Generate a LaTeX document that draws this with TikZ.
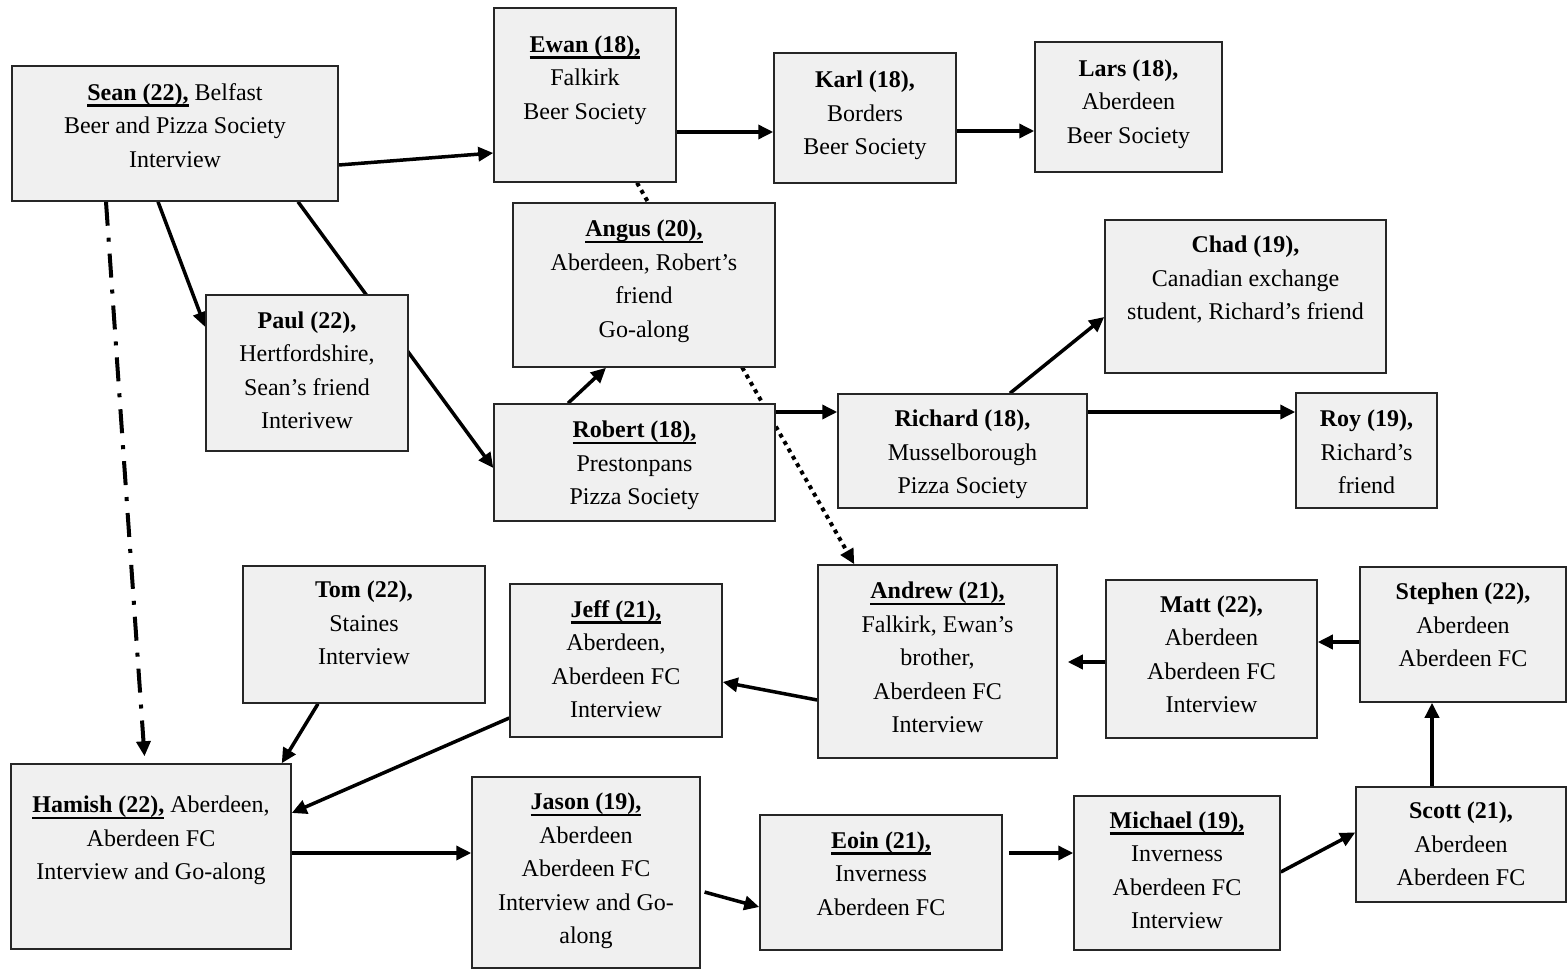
\documentclass[tikz,border=0pt]{standalone}
\usepackage{fontspec}
\setmainfont{Liberation Serif}
\usetikzlibrary{arrows.meta}
\pgfdeclarelayer{background}
\pgfsetlayers{background,main}
\definecolor{boxgray}{RGB}{240,240,240}
\newcommand\uname[1]{\setbox0\hbox{\bfseries #1}\rlap{\rule[-6.5pt]{\wd0}{2.6pt}}\box0\relax}
\newcommand\padtop[1]{\rule{0pt}{\dimexpr 23.45pt+#1pt\relax}}
\newcommand\padbot[1]{\rule[\dimexpr -10.05pt-#1pt\relax]{0pt}{\dimexpr 10.05pt+#1pt\relax}}
\begin{document}
\begin{tikzpicture}[x=1pt,y=-1pt,
  box/.style={draw=black!85, line width=1.5pt, fill=boxgray, inner sep=0pt, align=center,
    font=\fontsize{24}{33.5}\selectfont},
  arr/.style={line width=3.5pt, -{Triangle[length=15pt,width=14pt]}},
  dotarr/.style={line width=4pt, dash pattern=on 4pt off 4.5pt, -{Triangle[length=15pt,width=14pt]}},
  ddarr/.style={line width=4pt, dash pattern=on 24pt off 12pt on 4pt off 12pt, -{Triangle[length=15pt,width=14pt]}}]
\useasboundingbox (0,0) rectangle (1567,969);

\node[box, minimum width=326pt, minimum height=135pt] (sean) at (175,133.5)
  {\padtop{0}\uname{Sean (22),} Belfast\\Beer and Pizza Society\\Interview\padbot{13}};
\node[box, minimum width=182pt, minimum height=174pt] (ewan) at (585,95)
  {\padtop{0}\uname{Ewan (18),}\\Falkirk\\Beer Society\padbot{32}};
\node[box, minimum width=182pt, minimum height=130pt] (karl) at (865,118)
  {\padtop{0}\textbf{Karl (18),}\\Borders\\Beer Society\padbot{7}};
\node[box, minimum width=187pt, minimum height=130pt] (lars) at (1128.5,107)
  {\padtop{0}\textbf{Lars (18),}\\Aberdeen\\Beer Society\padbot{8}};
\node[box, minimum width=262pt, minimum height=164pt] (angus) at (644,285)
  {\padtop{0}\uname{Angus (20),}\\Aberdeen, Robert’s\\friend\\Go-along\padbot{9}};
\node[box, minimum width=202pt, minimum height=156pt] (paul) at (307,373)
  {\padtop{0}\textbf{Paul (22),}\\Hertfordshire,\\Sean’s friend\\Interivew\padbot{2}};
\node[box, minimum width=281pt, minimum height=117pt] (robert) at (634.5,462.5)
  {\padtop{4}\uname{Robert (18),}\\Prestonpans\\Pizza Society\padbot{0}};
\node[box, minimum width=281pt, minimum height=153pt] (chad) at (1245.5,296.5)
  {\padtop{0}\textbf{Chad (19),}\\Canadian exchange\\student, Richard’s friend\padbot{34}};
\node[box, minimum width=249pt, minimum height=114pt] (richard) at (962.5,451)
  {\padtop{5}\textbf{Richard (18),}\\Musselborough\\Pizza Society\padbot{0}};
\node[box, minimum width=141pt, minimum height=115pt] (roy) at (1366.5,450.5)
  {\padtop{6}\textbf{Roy (19),}\\Richard’s\\friend\padbot{0}};
\node[box, minimum width=242pt, minimum height=137pt] (tom) at (364,634.5)
  {\padtop{0}\textbf{Tom (22),}\\Staines\\Interview\padbot{20}};
\node[box, minimum width=212pt, minimum height=153pt] (jeff) at (616,660.5)
  {\padtop{1}\uname{Jeff (21),}\\Aberdeen,\\Aberdeen FC\\Interview\padbot{0}};
\node[box, minimum width=239pt, minimum height=193pt] (andrew) at (937.5,661.5)
  {\padtop{0}\uname{Andrew (21),}\\Falkirk, Ewan’s\\brother,\\Aberdeen FC\\Interview\padbot{5}};
\node[box, minimum width=211pt, minimum height=158pt] (matt) at (1211.5,659)
  {\padtop{0}\textbf{Matt (22),}\\Aberdeen\\Aberdeen FC\\Interview\padbot{6}};
\node[box, minimum width=206pt, minimum height=135pt] (stephen) at (1463,634.5)
  {\padtop{0}\textbf{Stephen (22),}\\Aberdeen\\Aberdeen FC\padbot{16}};
\node[box, minimum width=280pt, minimum height=185pt] (hamish) at (151,856.5)
  {\padtop{0}\uname{Hamish (22),} Aberdeen,\\Aberdeen FC\\Interview and Go-along\padbot{34}};
\node[box, minimum width=228pt, minimum height=191pt] (jason) at (586,872.5)
  {\padtop{0}\uname{Jason (19),}\\Aberdeen\\Aberdeen FC\\Interview and Go-\\along\padbot{5}};
\node[box, minimum width=242pt, minimum height=135pt] (eoin) at (881,882.5)
  {\padtop{0}\uname{Eoin (21),}\\Inverness\\Aberdeen FC\padbot{15}};
\node[box, minimum width=206pt, minimum height=154pt] (michael) at (1177,873)
  {\padtop{0}\uname{Michael (19),}\\Inverness\\Aberdeen FC\\Interview\padbot{2}};
\node[box, minimum width=210pt, minimum height=115pt] (scott) at (1461,844.5)
  {\padtop{2}\textbf{Scott (21),}\\Aberdeen\\Aberdeen FC\padbot{0}};

\begin{pgfonlayer}{background}
\draw[arr] ([yshift=-31.5pt]sean.east) -- ([yshift=-58pt]ewan.west);
\draw[arr] ([yshift=-37pt]ewan.east) -- ([yshift=-14pt]karl.west);
\draw[arr] ([yshift=-13pt]karl.east) -- ([yshift=-24pt]lars.west);
\draw[arr] ([xshift=-17pt]sean.south) -- ([yshift=46pt]paul.west);
\draw[arr] ([xshift=123pt]sean.south) -- ([yshift=-5.5pt]robert.west);
\draw[ddarr, shorten >=7pt] ([xshift=-69pt]sean.south) -- ([xshift=-6pt]hamish.north);
\draw[dotarr] ([xshift=52pt]ewan.south) -- ([xshift=37pt]andrew.north west);
\draw[arr] ([xshift=-66.5pt]robert.north) -- ([xshift=-38pt]angus.south);
\draw[arr] ([yshift=50.5pt]robert.east) -- ([yshift=39pt]richard.west);
\draw[arr] ([xshift=47.5pt]richard.north) -- ([yshift=-20.5pt]chad.west);
\draw[arr] ([yshift=39pt]richard.east) -- ([yshift=38.5pt]roy.west);
\draw[arr] ([xshift=-46pt]tom.south) -- ([xshift=-10pt]hamish.north east);
\draw[arr] ([yshift=-57.5pt]jeff.west) -- ([yshift=43.5pt]hamish.east);
\draw[arr] ([yshift=-38.5pt]andrew.west) -- ([yshift=-21.5pt]jeff.east);
\draw[arr, shorten >=10pt] ([yshift=-3pt]matt.west) -- ([yshift=-0.5pt]andrew.east);
\draw[arr] ([yshift=-7.5pt]stephen.west) -- ([yshift=17pt]matt.east);
\draw[arr] ([xshift=-29pt]scott.north) -- ([xshift=-31pt]stephen.south);
\draw[arr] ([yshift=3.5pt]hamish.east) -- ([yshift=19.5pt]jason.west);
\draw[arr, shorten <=4pt] ([yshift=-18.5pt]jason.east) -- ([yshift=-24.5pt]eoin.west);
\draw[arr, shorten <=6pt] ([yshift=29.5pt]eoin.east) -- ([yshift=20pt]michael.west);
\draw[arr] ([yshift=1pt]michael.east) -- ([yshift=12pt]scott.west);
\end{pgfonlayer}
\end{tikzpicture}
\end{document}
